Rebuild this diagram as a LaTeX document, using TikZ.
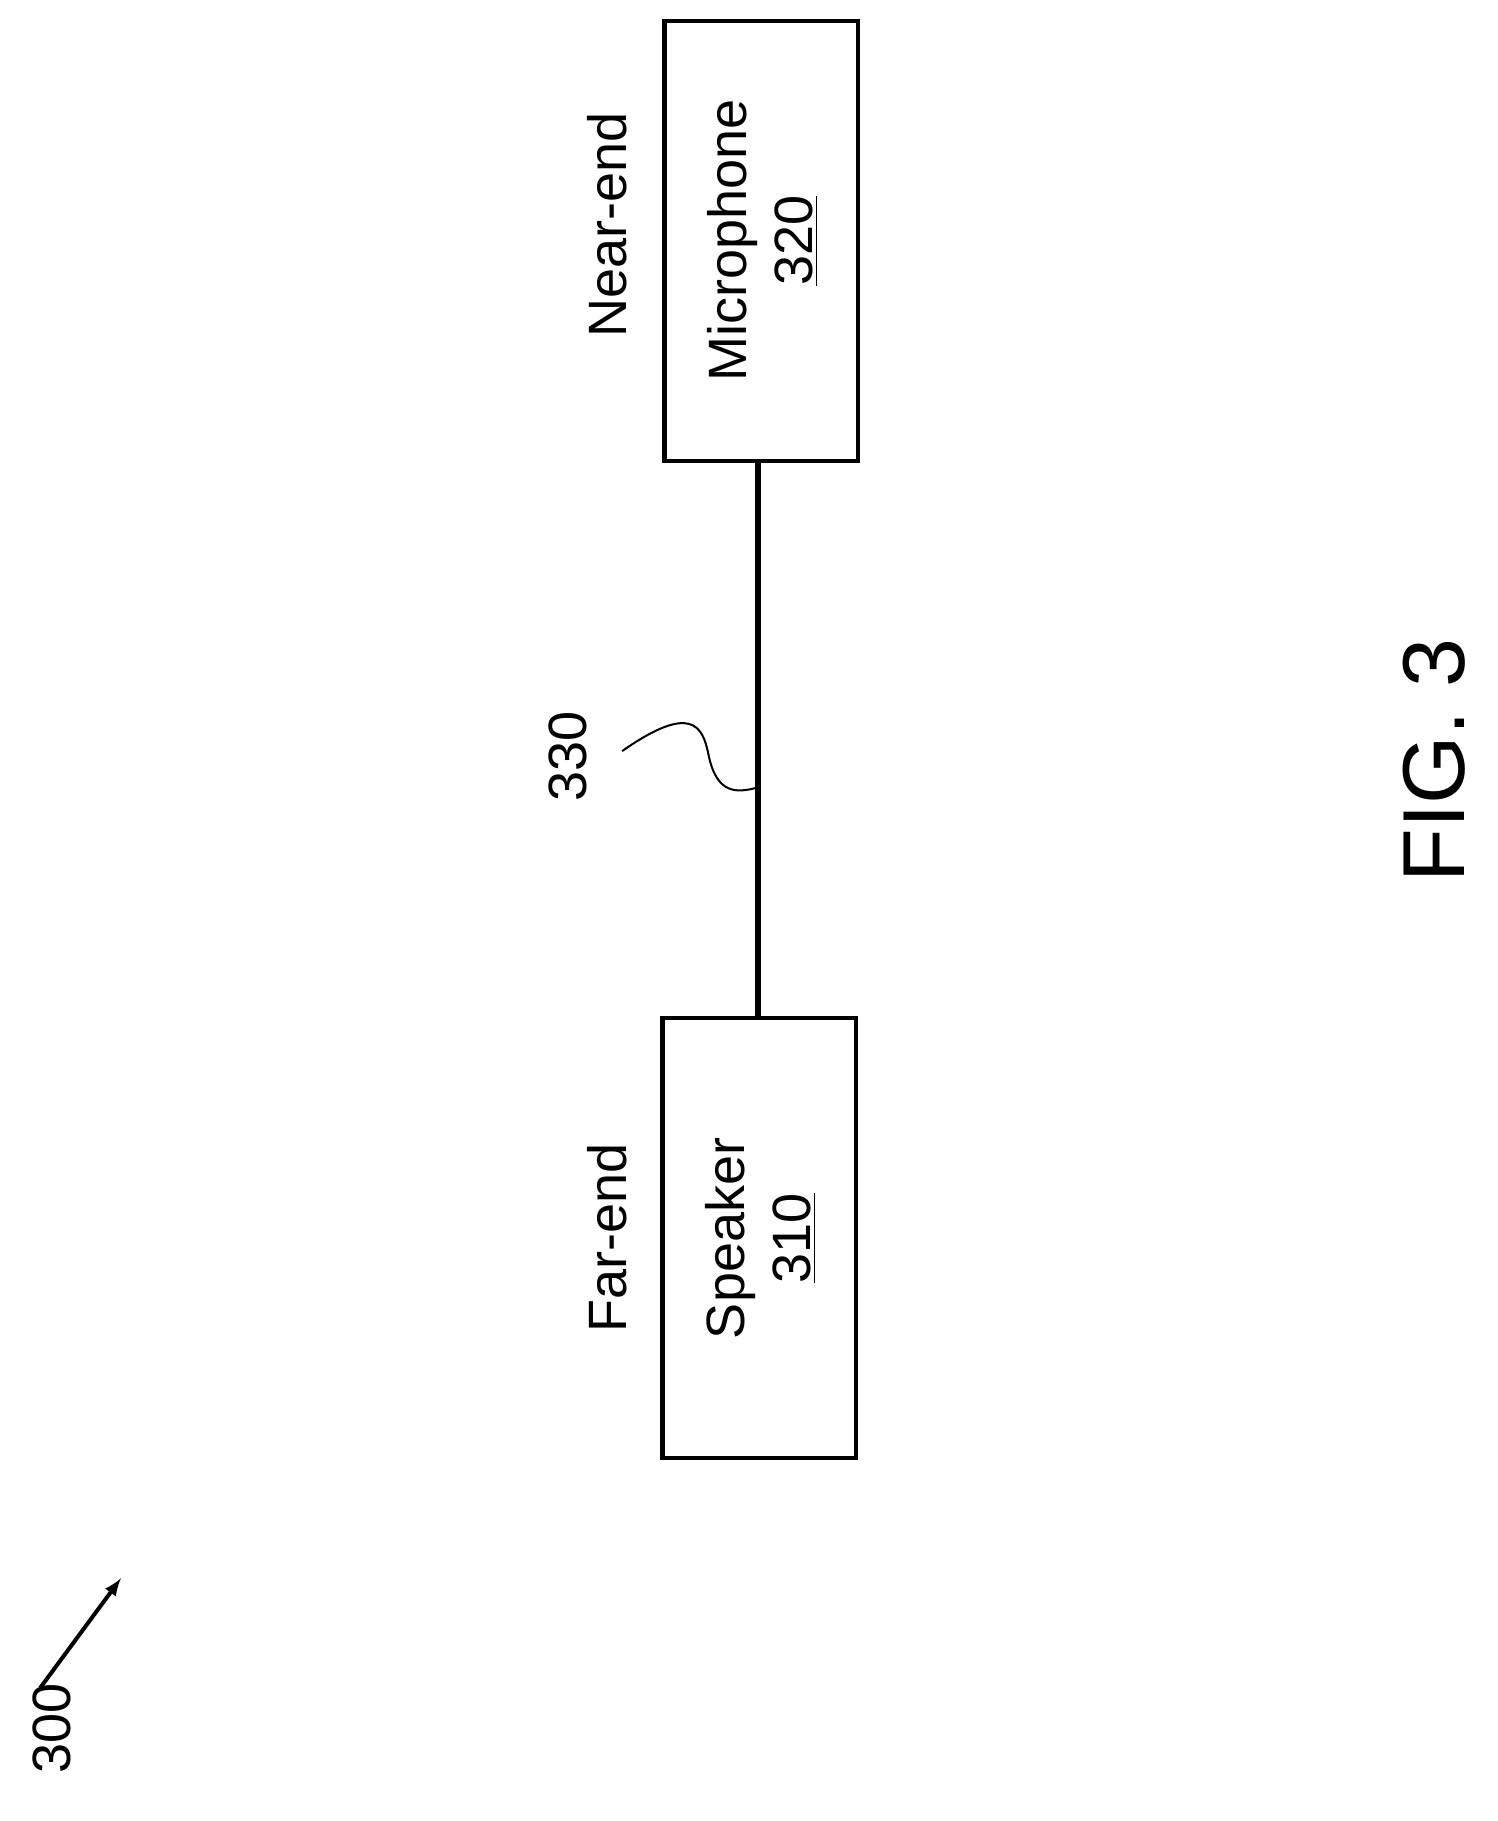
\documentclass[tikz,border=0pt]{standalone}
\usepackage{fontspec}
\setmainfont{Liberation Sans}
\usetikzlibrary{positioning}
\begin{document}
\begin{tikzpicture}[x=0.576pt,y=-0.576pt,
    box/.style={draw,line width=2.2pt,minimum width=96.8pt,minimum height=220pt,inner sep=0pt},
    lbl/.style={font=\fontsize{27}{33}\selectfont,rotate=90}]
  \useasboundingbox (0,0) rectangle (1300.3,1580.7);
  % boxes
  \node[box] (mic) at (661,209) {};
  \node[box] (spk) at (659,1074.5) {};
  \node[lbl,align=center] at (662,209) {Microphone\\\underline{320}};
  \node[lbl,align=center] at (660,1075) {Speaker\\\underline{310}};
  \node[lbl] (near) at (527,195) {Near-end};
  \node[lbl] (far) at (527,1075) {Far-end};
  % link
  \draw[line width=3pt] (mic.south -| 658,0) -- (spk.north -| 658,0);
  \node[lbl] (ref330) at (493,657) {330};
  \draw[line width=1pt] (540,652) .. controls (600,610) and (610,630) .. (615,655)
    .. controls (622,690) and (640,688) .. (656,684);
  \node[font=\fontsize{44}{50}\selectfont,rotate=90] (fig) at (1245,660) {FIG. 3};
  % 300
  \node[lbl] (ref300) at (45,1500) {300};
  \coordinate (tip) at (105,1370);
  \draw[line width=2pt,-latex] (35,1465) -- (tip);
\end{tikzpicture}
\end{document}
